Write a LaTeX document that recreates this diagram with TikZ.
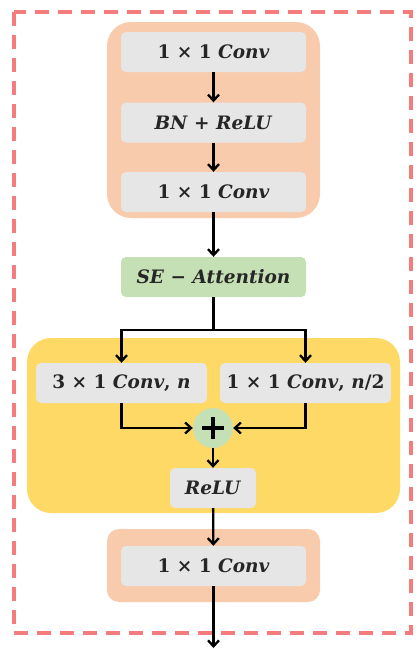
\documentclass[tikz,border=0pt]{standalone}
\usepackage{fontspec}
\setmainfont{DejaVu Serif}
\usetikzlibrary{arrows.meta}
\definecolor{convbg}{HTML}{F8CBAD}
\definecolor{boxgray}{HTML}{E7E6E6}
\definecolor{attgreen}{HTML}{C5E0B4}
\definecolor{branchbg}{HTML}{FFD966}
\definecolor{dashred}{HTML}{F47C7C}
\newcommand{\boxfont}{\fontsize{18.5}{20}\selectfont\bfseries}
\newcommand{\vb}[1]{\textit{#1}}
\tikzset{
  layer/.style={fill=boxgray, text=black!85, rounded corners=5pt, inner sep=0pt,
    minimum width=185pt, minimum height=40pt, font=\boxfont},
  arr/.style={-{Straight Barb[length=6pt,width=11pt]}, line width=2.3pt},
  link/.style={line width=2.3pt}
}
\begin{document}
\begin{tikzpicture}[x=1pt,y=-1pt]
  \useasboundingbox (0,0) rectangle (420,649);
  % frame and backgrounds
  \draw[dashred, line width=4pt, dash pattern=on 14pt off 9pt] (14,12) rectangle (411,633);
  \fill[convbg, rounded corners=24pt] (107,22) rectangle (320,218);
  \fill[branchbg, rounded corners=24pt] (27,338) rectangle (400,513);
  \fill[convbg, rounded corners=12pt] (107,529) rectangle (320,602);

  % layers
  \node[layer] (conva) at (213.5,52) {1 × 1 \vb{Conv}};
  \node[layer] (bnrelu) at (213.5,122.5) {\vb{BN} + \vb{ReLU}};
  \node[layer] (convb) at (213.5,192) {1 × 1 \vb{Conv}};
  \node[layer, fill=attgreen] (se) at (213.5,277) {\vb{SE} − \vb{Attention}};
  \node[layer, minimum width=171pt] (lft) at (121.5,383) {3 × 1 \vb{Conv}, \vb{n}};
  \node[layer, minimum width=171pt] (rgt) at (305.5,383) {1 × 1 \vb{Conv}, \vb{n}/2};
  \node[circle, fill=attgreen, minimum size=40pt, inner sep=0pt] (plus) at (213,428) {};
  \node[layer, minimum width=86pt] (relu) at (213,488) {\vb{ReLU}};
  \node[layer] (convc) at (213.5,566) {1 × 1 \vb{Conv}};
  \coordinate (split) at (213.5,330);
  \coordinate (out) at (213.5,648);

  % plus sign
  \draw[line width=3.2pt] ([xshift=-11pt]plus.center) -- ([xshift=11pt]plus.center);
  \draw[line width=3.2pt] ([yshift=-11pt]plus.center) -- ([yshift=11pt]plus.center);

  % connectors
  \draw[arr] (conva) -- (bnrelu);
  \draw[arr] (bnrelu) -- (convb);
  \draw[arr] (convb) -- (se);
  \draw[link] (se) -- (split);
  \draw[arr] (split) -| (lft.north);
  \draw[arr] (split) -| (rgt.north);
  \draw[arr] (lft.south) |- (plus.west);
  \draw[arr] (rgt.south) |- (plus.east);
  \draw[arr] (plus) -- (relu);
  \draw[arr] (relu) -- (convc);
  \draw[arr] (convc) -- (out);
\end{tikzpicture}
\end{document}
